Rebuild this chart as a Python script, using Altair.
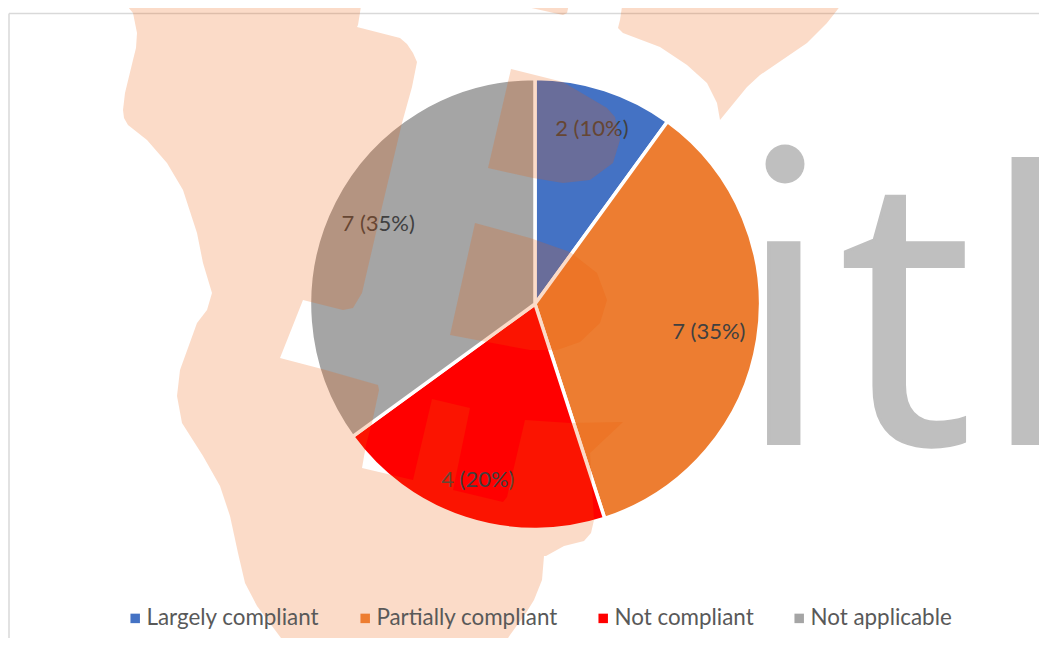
import altair as alt
import pandas as pd

# --- pie data ---
categories = ["Largely compliant", "Partially compliant", "Not compliant", "Not applicable"]
counts = [2, 7, 4, 7]
labels = ["2 (10%)", "7 (35%)", "4 (20%)", "7 (35%)"]
label_radius = [184, 176, 185, 176]
ranks = [0, 1, 2, 3]
colors = ["#4472C4", "#ED7D31", "#FF0000", "#A5A5A5"]

# --- watermark outlines ---
main_x = [60, 62, 117, 128, 133, 137, 136, 133, 125, 123, 124, 128, 147, 167, 183, 197, 203, 212, 207, 197, 180, 177, 182, 203,
          220, 230, 238, 245, 257, 287, 503, 510, 526, 534, 542, 544, 546, 564, 584, 591, 594, 590, 623, 570, 525,
          507, 503, 453, 470, 432, 413, 362, 366, 372, 379, 378, 322, 280, 303, 343, 353, 362, 382, 402, 412, 417,
          413, 407, 400, 357, 358, 362]
main_y = [0, 3, 1, 7, 13, 33, 48, 60, 93, 110, 118, 125, 140, 163, 190, 233, 263, 293, 310, 323, 370, 396, 423, 456,
          486, 516, 553, 583, 606, 646, 646, 635, 613, 600, 580, 556, 556, 546, 541, 533, 520, 453, 422, 423, 420,
          497, 502, 490, 408, 399, 480, 468, 445, 423, 390, 385, 369, 358, 300, 310, 308, 293, 207, 123, 87, 62,
          53, 44, 38, 27, 25, 0]
centre_x = [475, 530, 570, 597, 607, 600, 580, 557, 530, 487, 450]
centre_y = [223, 238, 252, 273, 300, 323, 342, 350, 350, 342, 335]
upper_x = [511, 563, 607, 615, 620, 613, 590, 563, 533, 488]
upper_y = [69, 82, 108, 117, 140, 163, 180, 183, 178, 168]
sliver_x = [527, 527, 563, 567, 570]
sliver_y = [0, 7, 15, 13, 0]
corner_x = [623, 620, 618, 623, 660, 687, 707, 717, 720, 747, 760, 807, 827, 845]
corner_y = [0, 20, 28, 33, 47, 65, 83, 103, 120, 87, 75, 43, 23, 0]

# --- frame of the chart area ---
frame_left = [9]
frame_right = [1039]
frame_top = [13.5]
frame_bottom = [638]

# --- large grey watermark letters ---
glyphs = ["\u0131", "t", "k"]
glyph_x = [736.5, 839.5, 981]
glyph_base = [443.5, 443.5, 443.5]
dot_x = [785]
dot_y = [164]


def feature(xs, ys):
    ring = [[a, b] for a, b in zip(xs, ys)]
    ring.append(ring[0])
    return {"type": "Feature", "properties": {}, "geometry": {"type": "Polygon", "coordinates": [ring]}}


features = [feature(main_x, main_y), feature(centre_x, centre_y), feature(upper_x, upper_y),
            feature(sliver_x, sliver_y), feature(corner_x, corner_y)]

pie = pd.DataFrame({"category": categories, "count": counts, "label": labels, "rank": ranks, "r": label_radius})
pie["mid"] = pie["count"].cumsum() - pie["count"] / 2

sx = alt.Scale(domain=[8, 1039])
sy = alt.Scale(domain=[638, 8])
X = lambda f: alt.X(f, type="quantitative", scale=sx, axis=None)
Y = lambda f: alt.Y(f, type="quantitative", scale=sy, axis=None)
FRAME = "#D9D9D9"
GREY = "#BFBFBF"

frame_h = alt.Chart(pd.DataFrame({"a": frame_left, "b": frame_right, "y": frame_top})).mark_rule(
    color=FRAME, strokeWidth=1.5).encode(x=X("a"), x2="b", y=Y("y"))
frame_v = alt.Chart(pd.DataFrame({"x": frame_left, "a": frame_top, "b": frame_bottom})).mark_rule(
    color=FRAME, strokeWidth=1.5).encode(x=X("x"), y=Y("a"), y2="b")

letters = alt.Chart(pd.DataFrame({"x": glyph_x, "y": glyph_base, "t": glyphs})).mark_text(
    font="Open Sans", fontSize=375, color=GREY, stroke=GREY, strokeWidth=3, align="left",
    baseline="alphabetic"
).encode(x=X("x"), y=Y("y"), text="t:N")
dot = alt.Chart(pd.DataFrame({"x": dot_x, "y": dot_y})).mark_circle(size=1520, color=GREY, opacity=1).encode(
    x=X("x"), y=Y("y"))

theta_scale = alt.Scale(domain=[0, 20])
order = alt.Order("rank:Q")
cx = alt.value(527)
cy = alt.value(296)

arcs = alt.Chart(pie).mark_arc(outerRadius=225.5, stroke="white", strokeWidth=3.5).encode(
    theta=alt.Theta("count:Q", stack=True, scale=theta_scale), order=order, x=cx, y=cy,
    color=alt.Color("category:N", sort=categories,
                    scale=alt.Scale(domain=categories, range=colors),
                    legend=alt.Legend(orient="none", legendX=116, legendY=599, direction="horizontal",
                                      columns=4, title=None, symbolType="square", symbolSize=90,
                                      symbolStrokeWidth=0, labelFont="Lato", labelFontSize=22.4,
                                      labelColor="#595959", labelOffset=0, columnPadding=34,
                                      labelLimit=300, symbolOpacity=1)),
)

texts = alt.Chart(pie).mark_text(font="Lato", fontSize=22, color="#404040").encode(
    theta=alt.Theta("mid:Q", stack=False, scale=theta_scale), radius=alt.Radius("r:Q", scale=None),
    x=cx, y=cy, text="label:N")

watermark = alt.Chart(alt.Data(values=features)).mark_geoshape(
    fill="#EC5B05", opacity=0.22, stroke=None
).project(type="identity", scale=1, translate=[-8, -8])

chart = alt.layer(frame_h, frame_v, letters, dot, arcs, texts, watermark).properties(
    width=1031, height=630, padding=0, autosize=alt.AutoSizeParams(type="none"), background="white"
).configure_view(stroke=None)

chart.save("out.html", embed_options={"renderer": "svg", "actions": False})
